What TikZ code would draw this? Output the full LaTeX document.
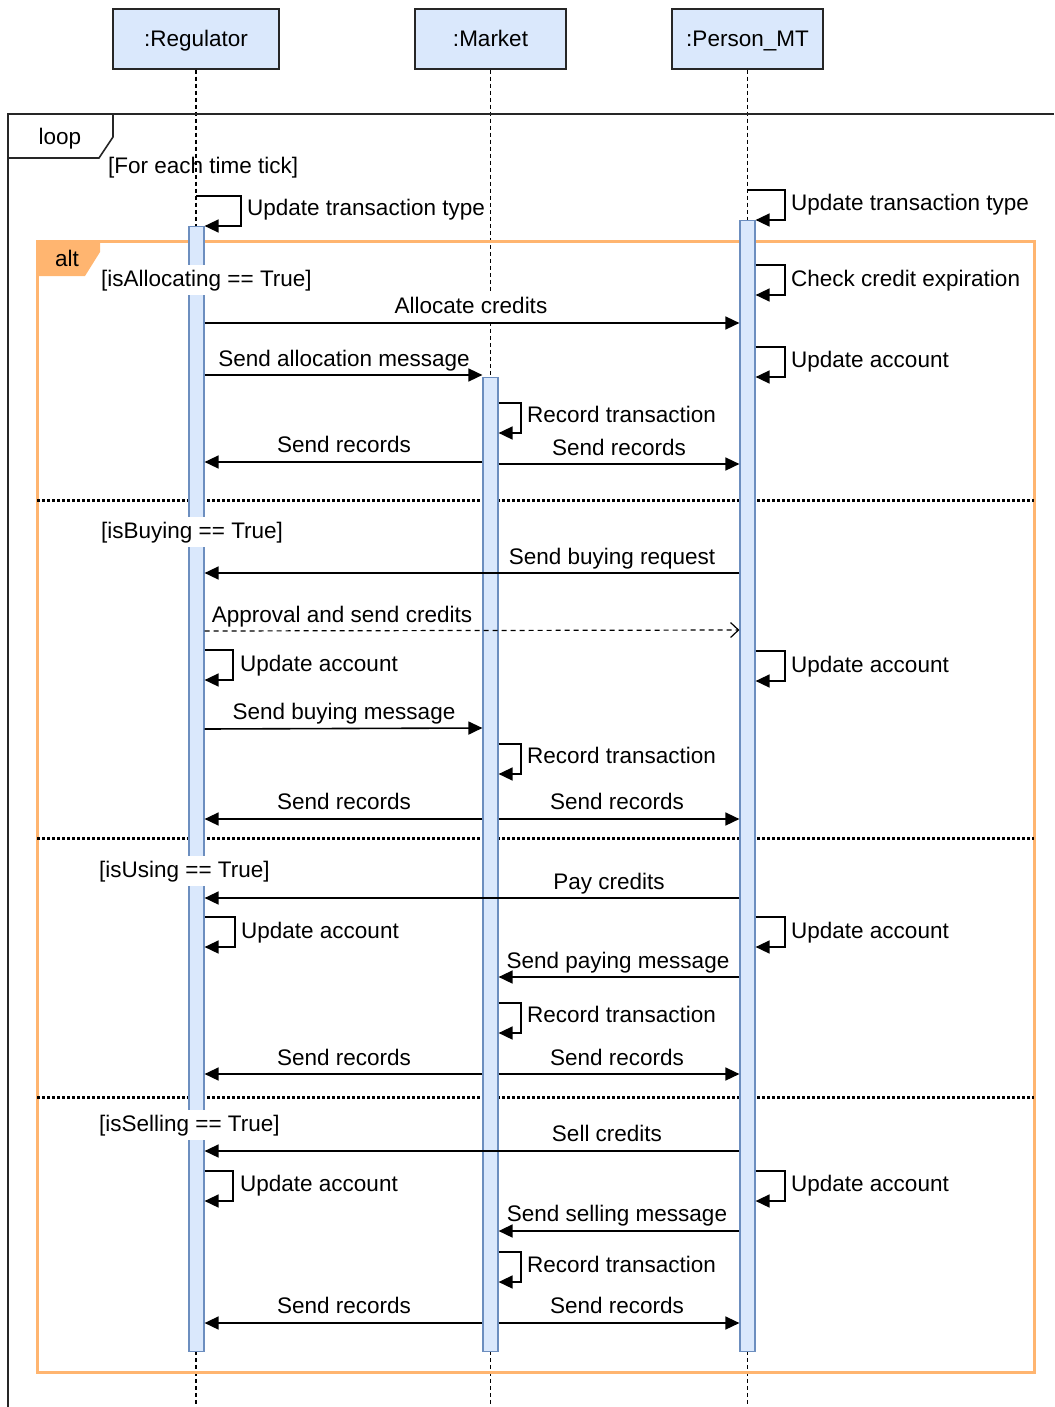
\documentclass[tikz,border=0pt]{standalone}
\usepackage{fontspec}
\setmainfont{Liberation Sans}
\usetikzlibrary{arrows.meta}
\definecolor{lblue}{HTML}{DAE8FC}
\definecolor{bblue}{HTML}{6C8EBF}
\definecolor{altor}{HTML}{FFB570}
\newcommand\selfmsg[4]{\draw[msg] (#1 |- 0,#2) -| (#3,#4) -- (#1 |- 0,#4);}
\begin{document}
\begin{tikzpicture}[x=1pt,y=-1pt,
  every node/.style={font=\fontsize{22.5pt}{27pt}\selectfont},
  head/.style={draw=black!85, fill=lblue, line width=1.5pt, minimum height=60pt, inner sep=0pt, text height=16pt, text depth=0pt},
  actbar/.style={draw=bblue, fill=lblue, line width=1.2pt, minimum width=15pt, inner sep=0pt, anchor=north},
  life/.style={line width=1.4pt, dash pattern=on 4pt off 3pt},
  msg/.style={line width=1.6pt, -{Triangle[length=14pt,width=13pt]}},
  reply/.style={line width=1.2pt, dash pattern=on 5pt off 4pt, -{Straight Barb[length=8pt,width=15pt]}},
  lbl/.style={fill=white, inner xsep=1pt, inner ysep=4pt, text height=17pt, text depth=5pt, anchor=base},
  lblw/.style={lbl, anchor=base west},
  txt/.style={inner sep=0pt, anchor=base west},
  frame/.style={line width=1.6pt, draw=black!85},
  altframe/.style={line width=3pt, draw=altor},
  divider/.style={line width=3pt, dash pattern=on 2.5pt off 2.5pt}
]
\useasboundingbox (0,0) rectangle (1054,1407);

% heads
\node[head, minimum width=166pt] (reg) at (196,39) {:Regulator};
\node[head, minimum width=151pt] (mkt) at (490.5,39) {:Market};
\node[head, minimum width=151pt] (per) at (747.5,39) {:Person\_MT};

% lifelines
\coordinate (regend) at (196,1407);
\coordinate (mktend) at (490.5,1407);
\coordinate (perend) at (747.5,1407);
\draw[life] (reg.south) -- (regend);
\draw[life] (mkt.south) -- (mktend);
\draw[life] (per.south) -- (perend);

% loop frame
\draw[frame] (8,1407) -- (8,114) -- (1054,114);
\draw[frame] (8,158) -- (99,158) -- (113,137) -- (113,114);
\node[txt, anchor=base] (looplbl) at (60,145) {loop};
\node[txt] (loopguard) at (108,174) {[For each time tick]};

% alt frame
\draw[altframe] (37,241) rectangle (1034,1372);
\fill[altor] (37,241) -- (100,241) -- (100,252) -- (85,276) -- (37,276) -- cycle;
\node[txt, anchor=base] (altlbl) at (67,266) {alt};
\draw[divider] (37,500) -- (1034,500);
\draw[divider] (37,838) -- (1034,838);
\draw[divider] (37,1097) -- (1034,1097);

% activation bars
\node[actbar, minimum height=1125pt] (regbar) at (196.5,226) {};
\node[actbar, minimum height=1131pt] (perbar) at (747.5,220) {};
\node[actbar, minimum height=974pt] (mktbar) at (490.5,377) {};

% guards
\node[lblw] (g1) at (100,286) {[isAllocating == True]};
\node[lblw] (g2) at (100,538) {[isBuying == True]};
\node[lblw] (g3) at (98,877) {[isUsing == True]};
\node[lblw] (g4) at (98,1131) {[isSelling == True]};

% labels
\node[lblw] (t1) at (246,215) {Update transaction type};
\node[lblw] (t2) at (790,211) {Update transaction type};
\node[lblw] (t3) at (790,286) {Check credit expiration};
\node[lbl] (t4) at (471,313) {Allocate credits};
\node[lbl] (t5) at (344,366) {Send allocation message};
\node[lblw] (t6) at (790,367) {Update account};
\node[lblw] (t7) at (526,422) {Record transaction};
\node[lbl] (t8) at (344,452) {Send records};
\node[lbl] (t9) at (619,455) {Send records};

\node[lbl] (b1) at (612,564) {Send buying request};
\node[lbl] (b2) at (342,622) {Approval and send credits};
\node[lblw] (b3) at (239,671) {Update account};
\node[lblw] (b4) at (790,672) {Update account};
\node[lbl] (b5) at (344,719) {Send buying message};
\node[lblw] (b6) at (526,763) {Record transaction};
\node[lbl] (b7) at (344,809) {Send records};
\node[lbl] (b8) at (617,809) {Send records};

\node[lbl] (u1) at (609,889) {Pay credits};
\node[lblw] (u2) at (240,938) {Update account};
\node[lblw] (u3) at (790,938) {Update account};
\node[lbl] (u4) at (618,968) {Send paying message};
\node[lblw] (u5) at (526,1022) {Record transaction};
\node[lbl] (u6) at (344,1065) {Send records};
\node[lbl] (u7) at (617,1065) {Send records};

\node[lbl] (s1) at (607,1141) {Sell credits};
\node[lblw] (s2) at (239,1191) {Update account};
\node[lblw] (s3) at (790,1191) {Update account};
\node[lbl] (s4) at (617,1221) {Send selling message};
\node[lblw] (s5) at (526,1272) {Record transaction};
\node[lbl] (s6) at (344,1313) {Send records};
\node[lbl] (s7) at (617,1313) {Send records};

% messages: setup
\draw[msg] (reg.south |- 0,196) -| (241,226) -- (regbar.east |- 0,226);
\draw[msg] (per.south |- 0,190) -| (785,220) -- (perbar.east |- 0,220);

% allocating
\selfmsg{perbar.east}{265}{785}{295}
\draw[msg] (regbar.east |- 0,323) -- (perbar.west |- 0,323);
\draw[msg] (regbar.east |- 0,375) -- (mktbar.west |- 0,375);
\selfmsg{perbar.east}{347}{785}{377}
\selfmsg{mktbar.east}{403}{521}{433}
\draw[msg] (mktbar.west |- 0,462) -- (regbar.east |- 0,462);
\draw[msg] (mktbar.east |- 0,464) -- (perbar.west |- 0,464);

% buying
\draw[msg] (perbar.west |- 0,573) -- (regbar.east |- 0,573);
\draw[reply] (regbar.east |- 0,631) -- (perbar.west |- 0,630);
\selfmsg{regbar.east}{650}{233}{680}
\selfmsg{perbar.east}{651}{785}{681}
\draw[msg] (regbar.east |- 0,729) -- (mktbar.west |- 0,728);
\selfmsg{mktbar.east}{744}{521}{774}
\draw[msg] (mktbar.west |- 0,819) -- (regbar.east |- 0,819);
\draw[msg] (mktbar.east |- 0,819) -- (perbar.west |- 0,819);

% using
\draw[msg] (perbar.west |- 0,898) -- (regbar.east |- 0,898);
\selfmsg{regbar.east}{917}{235}{947}
\selfmsg{perbar.east}{917}{785}{947}
\draw[msg] (perbar.west |- 0,977) -- (mktbar.east |- 0,977);
\selfmsg{mktbar.east}{1003}{521}{1033}
\draw[msg] (mktbar.west |- 0,1074) -- (regbar.east |- 0,1074);
\draw[msg] (mktbar.east |- 0,1074) -- (perbar.west |- 0,1074);

% selling
\draw[msg] (perbar.west |- 0,1151) -- (regbar.east |- 0,1151);
\selfmsg{regbar.east}{1171}{233}{1201}
\selfmsg{perbar.east}{1171}{785}{1201}
\draw[msg] (perbar.west |- 0,1231) -- (mktbar.east |- 0,1231);
\selfmsg{mktbar.east}{1252}{521}{1282}
\draw[msg] (mktbar.west |- 0,1323) -- (regbar.east |- 0,1323);
\draw[msg] (mktbar.east |- 0,1323) -- (perbar.west |- 0,1323);
\end{tikzpicture}
\end{document}
